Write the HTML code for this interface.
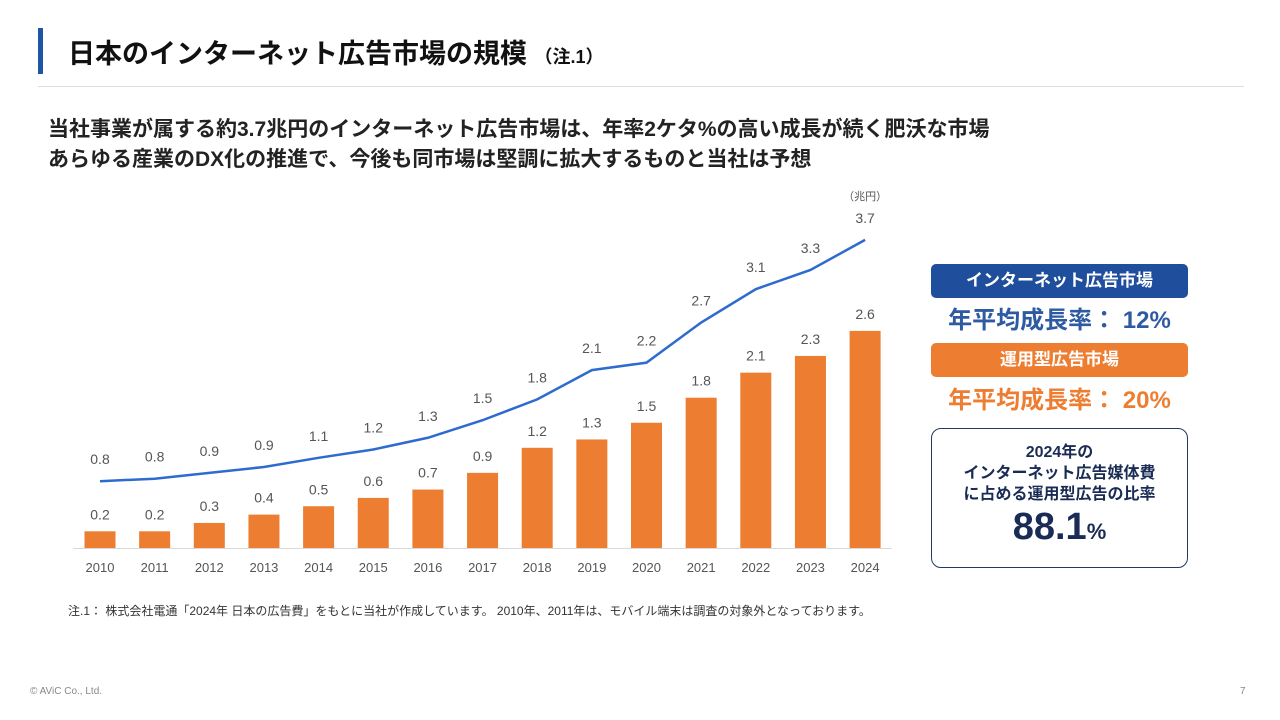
<!DOCTYPE html>
<html><head><meta charset="utf-8">
<style>
body{margin:0;width:1280px;height:720px;background:#fff;position:relative;overflow:hidden;font-family:"Liberation Sans","Noto Sans CJK JP",sans-serif;}
.abs{position:absolute;}
</style></head><body>
<div class="abs" style="left:38px;top:28px;width:5px;height:46px;background:#1f55a5"></div>
<div class="abs" style="left:68px;top:32px;font-size:27px;font-weight:bold;color:#111;white-space:nowrap">日本のインターネット広告市場の規模 <span style="font-size:18px">（注.1）</span></div>
<div class="abs" style="left:38px;top:86px;width:1206px;height:1px;background:#ddd"></div>
<div class="abs" style="left:48px;top:115px;font-size:21px;font-weight:bold;color:#222;line-height:30px;white-space:nowrap">当社事業が属する約3.7兆円のインターネット広告市場は、年率2ケタ%の高い成長が続く肥沃な市場<br>あらゆる産業のDX化の推進で、今後も同市場は堅調に拡大するものと当社は予想</div>
<svg class="abs" style="left:0;top:0" width="1280" height="720" id="chart"></svg>
<div class="abs" style="left:68px;top:602px;font-size:12px;color:#333;white-space:nowrap">注.1： 株式会社電通「2024年 日本の広告費」をもとに当社が作成しています。 2010年、2011年は、モバイル端末は調査の対象外となっております。</div>
<div class="abs" style="left:30px;top:686px;font-size:10px;color:#888">© AViC Co., Ltd.</div>
<div class="abs" style="left:1240px;top:686px;font-size:10px;color:#888">7</div>
<div class="abs" style="left:931px;top:264px;width:257px;height:34px;background:#1f4e9c;border-radius:5px;color:#fff;font-weight:bold;font-size:17px;text-align:center;line-height:34px">インターネット広告市場</div>
<div class="abs" style="left:931px;top:300px;width:257px;text-align:center;color:#2d5aa0;font-weight:bold;font-size:24px">年平均成長率： 12%</div>
<div class="abs" style="left:931px;top:343px;width:257px;height:34px;background:#ec7d31;border-radius:5px;color:#fff;font-weight:bold;font-size:17px;text-align:center;line-height:34px">運用型広告市場</div>
<div class="abs" style="left:931px;top:380px;width:257px;text-align:center;color:#ec7d31;font-weight:bold;font-size:24px">年平均成長率： 20%</div>
<div class="abs" style="left:931px;top:428px;width:255px;height:138px;border:1px solid #1f3a66;border-radius:10px;text-align:center;color:#1a2c55;font-weight:bold">
<div style="font-size:16px;line-height:21px;margin-top:13px">2024年の<br>インターネット広告媒体費<br>に占める運用型広告の比率</div>
<div style="font-size:38px;line-height:44px">88.1<span style="font-size:22px">%</span></div>
</div>
<script>
const years=["2010","2011","2012","2013","2014","2015","2016","2017","2018","2019","2020","2021","2022","2023","2024"];
const barValues=[0.2,0.2,0.3,0.4,0.5,0.6,0.7,0.9,1.2,1.3,1.5,1.8,2.1,2.3,2.6];
const lineValues=[0.8,0.8,0.9,0.9,1.1,1.2,1.3,1.5,1.8,2.1,2.2,2.7,3.1,3.3,3.7];
const lineY=[0.8,0.83,0.9,0.97,1.08,1.18,1.32,1.53,1.78,2.13,2.22,2.7,3.1,3.33,3.69];
const svg=document.getElementById('chart');const NS='http://www.w3.org/2000/svg';
const x=i=>100+i*54.65;const y=v=>548-v*83.5;
function mk(t,a){const e=document.createElementNS(NS,t);for(const k in a)e.setAttribute(k,a[k]);svg.appendChild(e);return e;}
const ax=mk('line',{x1:73,x2:892,y1:548.5,y2:548.5,stroke:'#d9d9d9'});


years.forEach((yr,i)=>{
const b=mk('rect',{x:x(i)-15.5,y:y(barValues[i]),width:31,height:548-y(barValues[i]),fill:'#ec7d31'});


const t=mk('text',{x:x(i),y:y(barValues[i])-12,'text-anchor':'middle','font-size':14,fill:'#555'});t.textContent=barValues[i].toFixed(1);


const l=mk('text',{x:x(i),y:572,'text-anchor':'middle','font-size':13,fill:'#555'});l.textContent=yr;


const lt=mk('text',{x:x(i),y:y(lineY[i])-17,'text-anchor':'middle','font-size':14,fill:'#555'});lt.textContent=lineValues[i].toFixed(1);


});
const p=mk('polyline',{points:lineY.map((v,i)=>x(i)+','+y(v)).join(' '),fill:'none',stroke:'#2e6bcf','stroke-width':2.5});


const u=mk('text',{x:x(14),y:200,'text-anchor':'middle','font-size':11,fill:'#555'});u.textContent='（兆円）';


</script>
</body></html>
